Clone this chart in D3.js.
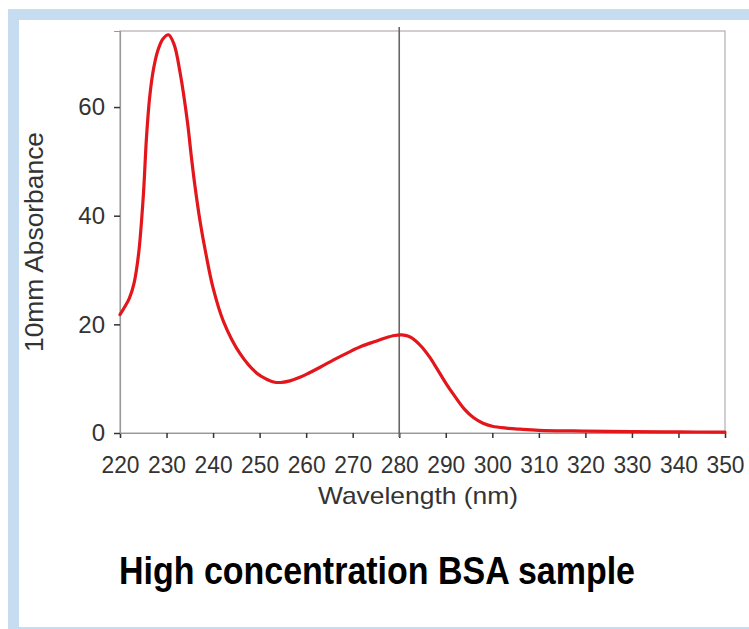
<!DOCTYPE html>
<html>
<head>
<meta charset="utf-8">
<script src="https://cdn.jsdelivr.net/npm/d3@7"></script>
<style>
  html, body { margin: 0; padding: 0; background: #ffffff; }
  svg { display: block; }
</style>
</head>
<body>
<div id="chart"></div>
<script>
// ---- data ----
const wavelengths = [220, 221, 222, 223, 224, 225, 225.7, 226.4, 227.2, 228.2, 229.3, 230.4, 231.6, 232.9, 234.5, 235.3, 236.1, 237.2, 238.5, 240, 242.2, 245.8, 249.4, 251.5, 253, 254.5, 256.5, 258.5, 260.5, 263, 266, 269, 272, 275, 277, 279, 280.5, 282, 283.5, 285, 286.5, 288, 290, 292, 294, 296, 298, 300, 303, 306, 310, 320, 330, 340, 350];
const absorbance  = [21.8, 23.2, 24.8, 27.5, 33.0, 43.5, 54.5, 62.0, 67.0, 70.6, 72.6, 73.3, 71.6, 66.4, 57.2, 51.1, 45.5, 39.0, 32.8, 26.7, 20.6, 14.6, 11.0, 9.9, 9.4, 9.3, 9.6, 10.2, 11.0, 12.1, 13.5, 14.8, 16.0, 16.9, 17.5, 17.95, 18.05, 17.8, 17.0, 15.7, 14.0, 12.0, 9.2, 6.7, 4.4, 2.8, 1.8, 1.25, 0.9, 0.7, 0.5, 0.35, 0.25, 0.2, 0.15];
const xTicks = [220, 230, 240, 250, 260, 270, 280, 290, 300, 310, 320, 330, 340, 350];
const yTicks = [0, 20, 40, 60];
const markerWavelength = 280;
const xTitle = "Wavelength (nm)";
const yTitle = "10mm Absorbance";
const chartTitle = "High concentration BSA sample";

(function () {
const W = 749, H = 629;
const svg = d3.select("#chart").append("svg").attr("width", W).attr("height", H);

// panel border
svg.append("rect").attr("x", 8).attr("y", 9).attr("width", W - 8).attr("height", H - 9).attr("fill", "#c5dcf1");
svg.append("rect").attr("x", 19).attr("y", 20).attr("width", W - 19).attr("height", H - 20 - 2).attr("fill", "#ffffff");

const pL = 120, pR = 725, pT = 31, pB = 433;
const x = d3.scaleLinear().domain([220, 350]).range([pL, pR]);
const y = d3.scaleLinear().domain([0, 74]).range([pB, pT]);

const font = "'Liberation Sans', Arial, Helvetica, sans-serif";

// frame
svg.append("rect").attr("x", pL).attr("y", pT).attr("width", pR - pL).attr("height", pB - pT)
  .attr("fill", "none").attr("stroke", "#b0b0b0").attr("stroke-width", 1.2);

// x axis
const xAxis = svg.append("g").attr("transform", `translate(0,${pB})`)
  .call(d3.axisBottom(x).tickValues(xTicks).tickSize(5).tickPadding(18).tickFormat(d3.format("d")));
xAxis.select(".domain").attr("stroke", "#999").attr("stroke-width", 1.2);
xAxis.selectAll(".tick line").attr("stroke", "#333").attr("stroke-width", 1.5);
xAxis.selectAll(".tick text").attr("font-family", font).attr("font-size", 24).attr("fill", "#333")
  .attr("textLength", 38).attr("lengthAdjust", "spacingAndGlyphs");

// y axis
const yAxis = svg.append("g").attr("transform", `translate(${pL},0)`)
  .call(d3.axisLeft(y).tickValues(yTicks).tickSize(6).tickPadding(9).tickFormat(d3.format("d")));
yAxis.select(".domain").attr("stroke", "#999").attr("stroke-width", 1.2);
yAxis.selectAll(".tick line").attr("stroke", "#333").attr("stroke-width", 1.5);
yAxis.selectAll(".tick text").attr("font-family", font).attr("font-size", 24).attr("fill", "#333");

// marker line at 280 nm
svg.append("line").attr("x1", x(markerWavelength)).attr("x2", x(markerWavelength))
  .attr("y1", pT - 4).attr("y2", pB + 4).attr("stroke", "#666").attr("stroke-width", 1.6);

// curve
const pts = wavelengths.map((w, i) => [w, absorbance[i]]);
svg.append("path").datum(pts)
  .attr("d", d3.line().x(d => x(d[0])).y(d => y(d[1])).curve(d3.curveCatmullRom.alpha(0.5)))
  .attr("fill", "none").attr("stroke", "#e3161c").attr("stroke-width", 3.2)
  .attr("stroke-linejoin", "round").attr("stroke-linecap", "round");

// axis titles
svg.append("text").attr("x", 418).attr("y", 504).attr("text-anchor", "middle")
  .attr("font-family", font).attr("font-size", 24).attr("fill", "#333")
  .attr("textLength", 200).attr("lengthAdjust", "spacingAndGlyphs").text(xTitle);

svg.append("text").attr("transform", "translate(43,242) rotate(-90)").attr("text-anchor", "middle")
  .attr("font-family", font).attr("font-size", 25).attr("fill", "#333")
  .attr("textLength", 220).attr("lengthAdjust", "spacingAndGlyphs").text(yTitle);

// chart title
svg.append("text").attr("x", 377).attr("y", 584).attr("text-anchor", "middle")
  .attr("font-family", font).attr("font-size", 39).attr("font-weight", "bold").attr("fill", "#000")
  .attr("textLength", 516).attr("lengthAdjust", "spacingAndGlyphs").text(chartTitle);
})();
</script>
</body>
</html>
